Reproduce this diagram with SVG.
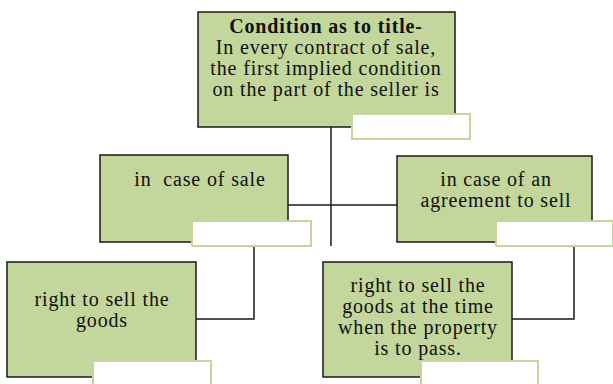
<svg xmlns="http://www.w3.org/2000/svg" width="613" height="384" viewBox="0 0 613 384">
<style>
.box{fill:#c3d69b;stroke:#1a1a1a;stroke-width:1.5}
.tag{fill:#ffffff;stroke:#c3d69b;stroke-width:2}
.t{font-family:"Liberation Serif",serif;font-size:20px;letter-spacing:0.85px;fill:#111;text-anchor:middle}
.b{font-weight:bold}
.ln{fill:none;stroke:#1a1a1a;stroke-width:1.5}
</style>
<rect width="613" height="384" fill="#ffffff"/>
<g id="connectors">
<line class="ln" x1="331" y1="127" x2="331" y2="246"/>
<line class="ln" x1="288" y1="205" x2="397" y2="205"/>
<polyline class="ln" points="254,245 254,319 196,319"/>
<polyline class="ln" points="574,245 574,319 512,319"/>
</g>
<g id="node-top">
<rect class="box" x="198" y="12" width="257" height="115"/>
<text class="t b" x="326" y="33">Condition as to title-</text>
<text class="t" x="326" y="54">In every contract of sale,</text>
<text class="t" x="326" y="75">the first implied condition</text>
<text class="t" x="326" y="96">on the part of the seller is</text>
<rect class="tag" x="352" y="114" width="118" height="25"/>
</g>
<g id="node-sale">
<rect class="box" x="100" y="155" width="188" height="87"/>
<text class="t" x="200" y="186" xml:space="preserve">in  case of sale</text>
<rect class="tag" x="192" y="221" width="119" height="25"/>
</g>
<g id="node-agreement">
<rect class="box" x="397" y="156" width="195" height="86"/>
<text class="t" x="496" y="186">in case of an</text>
<text class="t" x="496" y="207">agreement to sell</text>
<rect class="tag" x="496" y="221" width="117" height="25"/>
</g>
<g id="node-right">
<rect class="box" x="7" y="262" width="189" height="115"/>
<text class="t" x="102" y="306">right to sell the</text>
<text class="t" x="102" y="327">goods</text>
<rect class="tag" x="93" y="361" width="118" height="30"/>
</g>
<g id="node-right-time">
<rect class="box" x="323" y="262" width="189" height="115"/>
<text class="t" x="418" y="292">right to sell the</text>
<text class="t" x="418" y="313">goods at the time</text>
<text class="t" x="418" y="334">when the property</text>
<text class="t" x="418" y="355">is to pass.</text>
<rect class="tag" x="421" y="361" width="117" height="30"/>
</g>
</svg>
